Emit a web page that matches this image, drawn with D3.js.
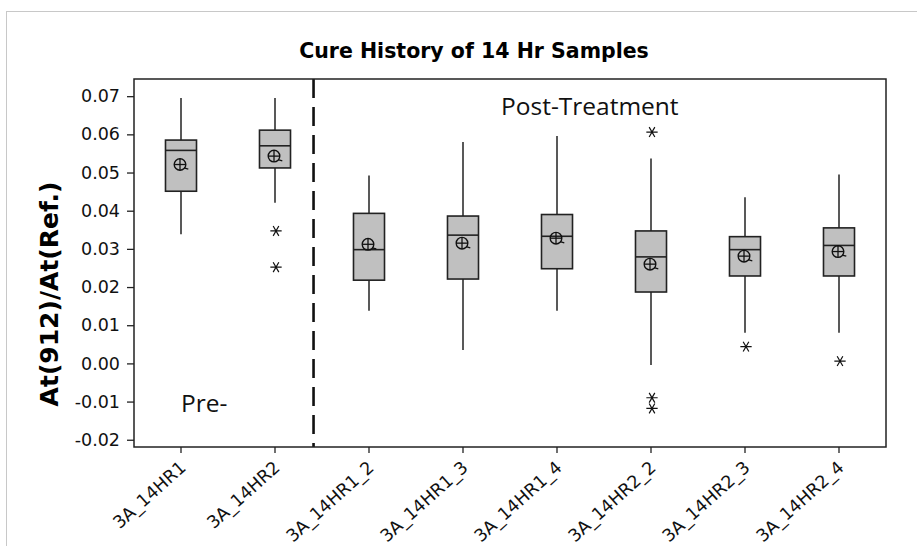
<!DOCTYPE html>
<html lang="en">
  <head>
    <meta charset="UTF-8" />
    <title>Cure History of 14 Hr Samples</title>
    <script src="https://d3js.org/d3.v7.min.js"></script>
    <style>
      body { margin: 0; background: #fff; }
    </style>
  </head>
  <body>
    <script>
      // values
      const categories = ["3A_14HR1", "3A_14HR2", "3A_14HR1_2", "3A_14HR1_3", "3A_14HR1_4", "3A_14HR2_2", "3A_14HR2_3", "3A_14HR2_4"];
      const whiskerLow = [0.0338, 0.0421, 0.0138, 0.0035, 0.0138, -0.0004, 0.0080, 0.0080];
      const q1 = [0.0451, 0.0512, 0.0218, 0.0221, 0.0248, 0.0187, 0.0229, 0.0229];
      const median = [0.0558, 0.0570, 0.0298, 0.0336, 0.0333, 0.0279, 0.0298, 0.0309];
      const q3 = [0.0585, 0.0611, 0.0393, 0.0386, 0.0390, 0.0347, 0.0332, 0.0355];
      const whiskerHigh = [0.0695, 0.0695, 0.0492, 0.0580, 0.0596, 0.0537, 0.0435, 0.0495];
      const means = [0.0521, 0.0543, 0.0312, 0.0315, 0.0328, 0.0260, 0.0281, 0.0293];
      const outliers = [[], [0.0347, 0.0252], [], [], [], [0.0606, -0.0090, -0.0118], [0.0044], [0.0006]];
      const yTicks = [-0.02, -0.01, 0.0, 0.01, 0.02, 0.03, 0.04, 0.05, 0.06, 0.07];

      const width = 917;
      const height = 546;
      const plotLeft = 134, plotRight = 886, plotTop = 79, plotBottom = 447;

      const svg = d3.select("body").append("svg")
        .attr("width", width)
        .attr("height", height);

      // outer light frame
      svg.append("rect")
        .attr("x", 6.5).attr("y", 11.5)
        .attr("width", 940).attr("height", 600)
        .attr("fill", "none")
        .attr("stroke", "#c8c8c8")
        .attr("stroke-width", 1);

      const x = d3.scaleBand().domain(categories).range([plotLeft, plotRight]).padding(0);
      const y = d3.scaleLinear().domain([-0.0219, 0.0745]).range([plotBottom, plotTop]);

      const boxW = x.bandwidth() * 0.33;
      const cx = (i) => x(categories[i]) + x.bandwidth() / 2;

      // axes
      const yAxis = d3.axisLeft(y).tickValues(yTicks).tickFormat((d) => d.toFixed(2)).tickSize(7).tickPadding(7);
      const gy = svg.append("g").attr("transform", `translate(${plotLeft},0)`).call(yAxis);
      gy.select(".domain").remove();
      gy.selectAll("line").attr("stroke", "#222").attr("stroke-width", 1.3);
      gy.selectAll("text")
        .attr("font-family", "DejaVu Sans")
        .attr("font-size", 17.5)
        .attr("fill", "#111");

      const xAxis = d3.axisBottom(x).tickSize(6).tickSizeOuter(0);
      const gx = svg.append("g").attr("transform", `translate(0,${plotBottom})`).call(xAxis);
      gx.select(".domain").remove();
      gx.selectAll("line").attr("stroke", "#222").attr("stroke-width", 1.3);
      gx.selectAll("text")
        .attr("font-family", "DejaVu Sans")
        .attr("font-size", 17.5)
        .attr("fill", "#111")
        .attr("text-anchor", "end")
        .attr("dy", "0")
        .attr("y", 0)
        .attr("transform", "translate(6,22) rotate(-42)");

      // dashed divider between pre and post
      const divX = cx(1) + x.step() * 0.41;
      svg.append("line")
        .attr("x1", divX).attr("x2", divX)
        .attr("y1", plotTop).attr("y2", plotBottom)
        .attr("stroke", "#111")
        .attr("stroke-width", 2.6)
        .attr("stroke-dasharray", "19,9");

      // boxes
      const boxes = svg.append("g");
      categories.forEach((c, i) => {
        const g = boxes.append("g");
        const xc = cx(i);
        g.append("line")
          .attr("x1", xc).attr("x2", xc)
          .attr("y1", y(whiskerHigh[i])).attr("y2", y(q3[i]))
          .attr("stroke", "#222").attr("stroke-width", 1.5);
        g.append("line")
          .attr("x1", xc).attr("x2", xc)
          .attr("y1", y(q1[i])).attr("y2", y(whiskerLow[i]))
          .attr("stroke", "#222").attr("stroke-width", 1.5);
        g.append("rect")
          .attr("x", xc - boxW / 2)
          .attr("y", y(q3[i]))
          .attr("width", boxW)
          .attr("height", y(q1[i]) - y(q3[i]))
          .attr("fill", "#c0c0c0")
          .attr("stroke", "#222")
          .attr("stroke-width", 1.6);
        g.append("line")
          .attr("x1", xc - boxW / 2).attr("x2", xc + boxW / 2)
          .attr("y1", y(median[i])).attr("y2", y(median[i]))
          .attr("stroke", "#222").attr("stroke-width", 1.6);

        // mean symbol: circle with cross
        const m = g.append("g").attr("transform", `translate(${xc - 1},${y(means[i])})`);
        const r = 5.8;
        m.append("circle").attr("r", r).attr("fill", "none").attr("stroke", "#111").attr("stroke-width", 1.4);
        m.append("line").attr("x1", -r).attr("x2", r).attr("y1", 0).attr("y2", 0).attr("stroke", "#111").attr("stroke-width", 1.3);
        m.append("line").attr("x1", 0).attr("x2", 0).attr("y1", -r).attr("y2", r).attr("stroke", "#111").attr("stroke-width", 1.3);
        m.append("line").attr("x1", r * 0.7).attr("x2", r + 2.5).attr("y1", r * 0.6).attr("y2", r * 0.8).attr("stroke", "#111").attr("stroke-width", 1.3);

        // outliers
        outliers[i].forEach((v) => {
          g.append("path")
            .attr("d", d3.symbol(d3.symbolAsterisk, 90)())
            .attr("transform", `translate(${xc + 1},${y(v)}) rotate(90)`)
            .attr("fill", "none")
            .attr("stroke", "#111")
            .attr("stroke-width", 1.2);
        });
      });

      // plot frame
      svg.append("rect")
        .attr("x", plotLeft).attr("y", plotTop)
        .attr("width", plotRight - plotLeft).attr("height", plotBottom - plotTop)
        .attr("fill", "none")
        .attr("stroke", "#222")
        .attr("stroke-width", 1.5);

      // annotations
      svg.append("text")
        .attr("x", 501).attr("y", 115)
        .attr("font-family", "Open Sans")
        .attr("font-size", 24.5)
        .attr("fill", "#111")
        .text("Post-Treatment");

      svg.append("text")
        .attr("x", 181).attr("y", 412)
        .attr("font-family", "Open Sans")
        .attr("font-size", 24.5)
        .attr("fill", "#111")
        .text("Pre-");

      // title and y label
      svg.append("text")
        .attr("x", 474).attr("y", 58)
        .attr("text-anchor", "middle")
        .attr("font-family", "DejaVu Sans")
        .attr("font-weight", "bold")
        .attr("font-size", 20.5)
        .attr("fill", "#000")
        .text("Cure History of 14 Hr Samples");

      svg.append("text")
        .attr("transform", "translate(58,294) rotate(-90)")
        .attr("text-anchor", "middle")
        .attr("font-family", "DejaVu Sans")
        .attr("font-weight", "bold")
        .attr("font-size", 25)
        .attr("fill", "#000")
        .text("At(912)/At(Ref.)");
    </script>
  </body>
</html>
